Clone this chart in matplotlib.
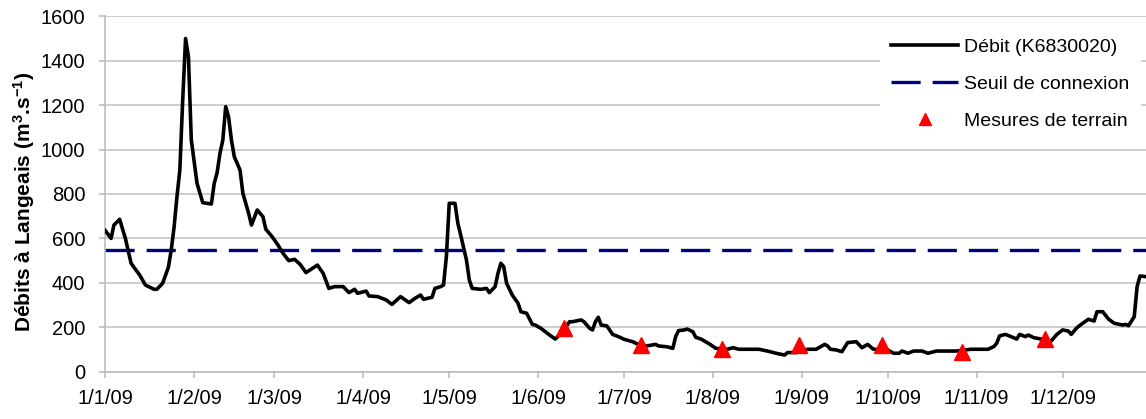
import datetime as dt
import matplotlib
matplotlib.use("Agg")
import matplotlib.pyplot as plt
import matplotlib.dates as mdates

plt.rcParams["font.family"] = ["Liberation Sans", "DejaVu Sans"]
plt.rcParams["mathtext.fontset"] = "custom"
plt.rcParams["mathtext.bf"] = "Liberation Sans:bold"
plt.rcParams["mathtext.default"] = "bf"
plt.rcParams["lines.scale_dashes"] = False

# daily discharge at Langeais (day offset from 1/1/2009)
jour = [0, 2, 3, 5, 7, 9, 10, 12, 14, 17, 18, 20, 22, 23, 24, 25, 26, 27, 28, 29,
        30, 32, 34, 37, 38, 39, 40, 41, 42, 43, 44, 45, 47, 48, 50, 51, 53, 55, 56, 58,
        60, 62, 64, 66, 68, 70, 74, 76, 78, 80, 83, 85, 87, 88, 91, 92, 95, 98, 100, 103,
        106, 108, 110, 111, 114, 115, 117, 118, 119, 120, 122, 123, 124, 126, 127, 128, 131, 133, 134, 136,
        137, 138, 139, 140, 142, 144, 145, 147, 149, 150, 152, 155, 157, 159, 162, 163, 166, 167, 169, 170,
        171, 172, 173, 175, 177, 179, 181, 184, 187, 189, 192, 193, 196, 198, 199, 200, 202, 203, 205, 206,
        208, 211, 213, 217, 219, 221, 228, 231, 234, 237, 238, 241, 245, 248, 251, 252, 253, 255, 257, 259,
        262, 264, 266, 268, 273, 275, 277, 278, 280, 282, 285, 287, 290, 297, 302, 308, 310, 311, 312, 314,
        316, 318, 319, 321, 322, 324, 327, 330, 332, 334, 336, 337, 339, 341, 343, 345, 346, 348, 350, 352,
        355, 356, 357, 359, 360, 361, 363]
debit = [635, 600, 660, 686, 600, 488, 470, 435, 390, 371, 371, 398, 470, 548, 652, 788, 908, 1223, 1500, 1418,
         1043, 848, 761, 755, 848, 896, 983, 1043, 1193, 1148, 1043, 968, 908, 803, 713, 660, 728, 698, 641, 611,
         575, 533, 500, 506, 483, 446, 480, 443, 375, 383, 383, 356, 371, 353, 363, 341, 338, 323, 303, 338,
         311, 330, 345, 326, 335, 375, 383, 390, 518, 758, 758, 668, 615, 503, 413, 375, 371, 375, 356, 383,
         443, 488, 473, 398, 345, 308, 270, 263, 213, 210, 195, 165, 147, 173, 225, 225, 233, 225, 195, 188,
         225, 245, 210, 206, 168, 158, 146, 135, 116, 116, 123, 116, 112, 105, 158, 185, 188, 192, 180, 155,
         146, 123, 105, 101, 108, 101, 101, 93, 83, 75, 86, 86, 101, 101, 123, 116, 101, 98, 90, 131,
         135, 108, 123, 101, 98, 83, 83, 93, 83, 93, 93, 83, 93, 93, 101, 101, 113, 128, 161, 168,
         158, 147, 168, 158, 165, 153, 146, 138, 168, 188, 183, 168, 198, 218, 236, 228, 270, 270, 237, 218,
         210, 213, 207, 248, 383, 431, 428]

seuil = 550  # seuil de connexion

# field measurements
mesure_dates = ["2009-06-10", "2009-07-07", "2009-08-04", "2009-08-31",
                "2009-09-29", "2009-10-27", "2009-11-25"]
mesure_debit = [195, 120, 100, 120, 120, 90, 145]

debut = dt.datetime(2009, 1, 1)
dates = [debut + dt.timedelta(days=j) for j in jour]
dates_mes = [dt.datetime.strptime(d, "%Y-%m-%d") for d in mesure_dates]

fig = plt.figure(figsize=(11.46, 4.19), dpi=100)
ax = fig.add_axes([0.0919, 0.1129, 0.9081, 0.8482])

ax.plot(dates, debit, color="black", lw=2.6, label="Débit (K6830020)", zorder=3)
ax.axhline(seuil, color="#000080", lw=2.4, dashes=(21, 8.6), label="Seuil de connexion", zorder=2)
ax.plot(dates_mes, mesure_debit, ls="none", marker="^", ms=11, color="red",
        label="Mesures de terrain", zorder=4)

x0 = mdates.date2num(debut)
ax.set_xlim(x0, x0 + 363.1)
ax.set_ylim(0, 1600)
ax.set_yticks(range(0, 1601, 200))
ax.xaxis.set_major_locator(mdates.MonthLocator())
ax.xaxis.set_major_formatter(
    plt.FuncFormatter(lambda v, p: "{d.day}/{d.month}/{y}".format(
        d=mdates.num2date(v), y=mdates.num2date(v).strftime("%y"))))

ax.grid(axis="y", color="#c0c0c0", lw=1.1)
ax.set_axisbelow(True)
for s in ["top", "right"]:
    ax.spines[s].set_visible(False)
for s in ["left", "bottom"]:
    ax.spines[s].set_color("#b8b8b8")
    ax.spines[s].set_linewidth(1.1)
ax.tick_params(axis="both", colors="#b8b8b8", labelcolor="black", labelsize=14.5,
               length=4.5, width=1.1)
ax.tick_params(axis="x", pad=8)
ax.tick_params(axis="y", pad=10)

ax.set_ylabel("Débits à Langeais (m$^{3}$.s$^{-1}$)", fontsize=15, fontweight="bold")
ax.yaxis.set_label_coords(-0.0656, 0.477)

leg = ax.legend(loc="upper right", bbox_to_anchor=(1141 / 1146, 1 - 27 / 419),
                bbox_transform=fig.transFigure, fontsize=14, frameon=True,
                fancybox=False, edgecolor="none", facecolor="white", framealpha=1,
                handlelength=3.45, handletextpad=0.3, labelspacing=0.98,
                borderpad=0.6, borderaxespad=0, numpoints=1, markerscale=0.8)

fig.savefig("out.png", dpi=100)
